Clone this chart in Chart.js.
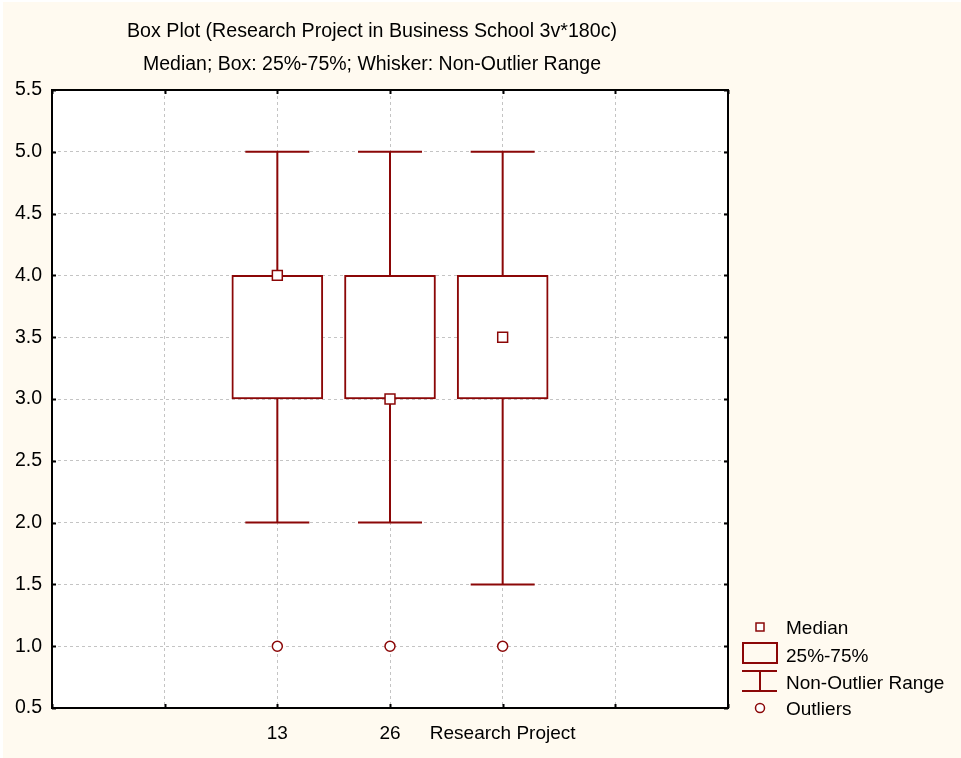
<!DOCTYPE html>
<html>
<head>
<meta charset="utf-8">
<title>Box Plot (Research Project in Business School 3v*180c)</title>
<script src="https://cdn.jsdelivr.net/npm/chart.js@4.4.1/dist/chart.umd.min.js"></script>
<style>
  html, body { margin: 0; padding: 0; background: #ffffff; }
  #wrap { width: 961px; height: 758px; }
  canvas { display: block; }
</style>
</head>
<body>
<div id="wrap"><canvas id="chart" width="961" height="758"></canvas></div>
<script>
// ---- data ----
const categories   = ['13', '26', 'Research Project'];
const medians      = [4.0, 3.0, 3.5];
const quartile25   = [3.0, 3.0, 3.0];
const quartile75   = [4.0, 4.0, 4.0];
const whiskerLow   = [2.0, 2.0, 1.5];
const whiskerHigh  = [5.0, 5.0, 5.0];
const outliers     = [1.0, 1.0, 1.0];
const yTickValues  = [0.5, 1.0, 1.5, 2.0, 2.5, 3.0, 3.5, 4.0, 4.5, 5.0, 5.5];

const titleLines = [
  'Box Plot (Research Project in Business School 3v*180c)',
  'Median; Box: 25%-75%; Whisker: Non-Outlier Range'
];
const legendItems = ['Median', '25%-75%', 'Non-Outlier Range', 'Outliers'];

// ---- styling ----
const RED = '#8b0707';
const CREAM = '#fffaf0';
const FONT = '"Liberation Sans", Arial, sans-serif';
const X_MIN = 0, X_MAX = 6, FIRST_SLOT = 2;   // categories sit on slots 2,3,4 of a 0..6 axis
const CAP_HALF = 0.284;                        // whisker cap half-width, in axis units

const xOf = i => i + FIRST_SLOT;

// whiskers and caps as one broken polyline
const whiskerPts = [];
categories.forEach((c, i) => {
  const x = xOf(i);
  whiskerPts.push({ x, y: quartile75[i] }, { x, y: whiskerHigh[i] }, { x, y: null });
  whiskerPts.push({ x, y: quartile25[i] }, { x, y: whiskerLow[i] }, { x, y: null });
  whiskerPts.push({ x: x - CAP_HALF, y: whiskerHigh[i] }, { x: x + CAP_HALF, y: whiskerHigh[i] }, { x, y: null });
  whiskerPts.push({ x: x - CAP_HALF, y: whiskerLow[i] }, { x: x + CAP_HALF, y: whiskerLow[i] }, { x, y: null });
});

// page background, white plot area
const backdrop = {
  id: 'backdrop',
  beforeDraw(chart) {
    const { ctx, width, height, chartArea: a } = chart;
    ctx.save();
    ctx.fillStyle = '#ffffff';
    ctx.fillRect(0, 0, width, height);
    ctx.fillStyle = CREAM;
    ctx.fillRect(3, 2, width - 3, height - 2);
    ctx.fillStyle = '#ffffff';
    ctx.fillRect(a.left, a.top, a.right - a.left, a.bottom - a.top);
    ctx.restore();
  }
};

// two-line heading
const heading = {
  id: 'heading',
  afterDraw(chart) {
    const { ctx } = chart;
    const cx = 372;
    const widths = [490, 458];
    const ys = [32, 65];
    ctx.save();
    ctx.fillStyle = '#000';
    ctx.font = '19.5px ' + FONT;
    ctx.textAlign = 'center';
    ctx.textBaseline = 'middle';
    titleLines.forEach((t, k) => {
      const w = ctx.measureText(t).width;
      ctx.save();
      ctx.translate(cx, ys[k]);
      ctx.scale(widths[k] / w, 1);
      ctx.fillText(t, 0, 0);
      ctx.restore();
    });
    ctx.restore();
  }
};

// black frame with inward tick marks on all four sides
const frame = {
  id: 'frame',
  afterDatasetsDraw(chart) {
    const { ctx, chartArea: a, scales } = chart;
    const L = 4;
    ctx.save();
    ctx.strokeStyle = '#000';
    ctx.lineWidth = 2;
    ctx.strokeRect(a.left, a.top, a.right - a.left, a.bottom - a.top);
    ctx.beginPath();
    scales.y.ticks.forEach(t => {
      const y = Math.round(scales.y.getPixelForValue(t.value)) + 0.5;
      ctx.moveTo(a.left, y); ctx.lineTo(a.left + L, y);
      ctx.moveTo(a.right, y); ctx.lineTo(a.right - L, y);
    });
    scales.x.ticks.forEach(t => {
      const x = Math.round(scales.x.getPixelForValue(t.value)) + 0.5;
      ctx.moveTo(x, a.bottom); ctx.lineTo(x, a.bottom - L);
      ctx.moveTo(x, a.top); ctx.lineTo(x, a.top + L);
    });
    ctx.stroke();
    ctx.restore();
  }
};

// key at the lower right
const keyBox = {
  id: 'keyBox',
  afterDraw(chart) {
    const { ctx } = chart;
    const ix = 760, tx = 786;
    const rows = [627, 655, 682, 708];
    ctx.save();
    ctx.strokeStyle = RED;
    ctx.fillStyle = '#fff';
    // median marker
    ctx.lineWidth = 1.5;
    ctx.fillRect(ix - 4, rows[0] - 4, 8, 8);
    ctx.strokeRect(ix - 4, rows[0] - 4, 8, 8);
    // box
    ctx.lineWidth = 2;
    ctx.strokeRect(743, 643, 34, 20);
    // whisker
    ctx.beginPath();
    ctx.moveTo(742, 671); ctx.lineTo(777, 671);
    ctx.moveTo(ix, 671); ctx.lineTo(ix, 691);
    ctx.moveTo(742, 691); ctx.lineTo(777, 691);
    ctx.stroke();
    // outlier marker
    ctx.lineWidth = 1.5;
    ctx.beginPath();
    ctx.arc(ix, rows[3], 4.5, 0, Math.PI * 2);
    ctx.fill();
    ctx.stroke();
    // labels
    ctx.fillStyle = '#000';
    ctx.font = '19px ' + FONT;
    ctx.textAlign = 'left';
    ctx.textBaseline = 'middle';
    legendItems.forEach((t, k) => ctx.fillText(t, tx, rows[k] + 1.5));
    ctx.restore();
  }
};

new Chart(document.getElementById('chart'), {
  data: {
    datasets: [
      {
        type: 'bar',
        label: '25%-75%',
        data: categories.map((c, i) => ({ x: xOf(i), y: [quartile25[i], quartile75[i]] })),
        backgroundColor: '#ffffff',
        borderColor: RED,
        borderWidth: 2,
        borderSkipped: false,
        barThickness: 91,
        order: 3
      },
      {
        type: 'line',
        label: 'Non-Outlier Range',
        data: whiskerPts,
        borderColor: RED,
        borderWidth: 2,
        pointRadius: 0,
        spanGaps: false,
        fill: false,
        order: 2
      },
      {
        type: 'scatter',
        label: 'Median',
        data: categories.map((c, i) => ({ x: xOf(i), y: medians[i] })),
        pointStyle: 'rect',
        pointRadius: 7,
        pointBorderWidth: 1.5,
        pointBackgroundColor: '#ffffff',
        pointBorderColor: RED,
        order: 0
      },
      {
        type: 'scatter',
        label: 'Outliers',
        data: categories.map((c, i) => ({ x: xOf(i), y: outliers[i] })),
        pointStyle: 'circle',
        pointRadius: 5,
        pointBorderWidth: 1.5,
        pointBackgroundColor: '#ffffff',
        pointBorderColor: RED,
        order: 1
      }
    ]
  },
  options: {
    responsive: false,
    animation: false,
    events: [],
    layout: { padding: { top: 90, right: 233, bottom: 0, left: 0 } },
    plugins: { legend: { display: false }, tooltip: { enabled: false }, title: { display: false } },
    scales: {
      x: {
        type: 'linear',
        min: X_MIN,
        max: X_MAX,
        offset: false,
        afterFit: s => { s.height = 50; },
        afterBuildTicks: s => {
          const t = [];
          for (let v = X_MIN; v <= X_MAX; v++) t.push({ value: v });
          s.ticks = t;
        },
        ticks: {
          autoSkip: false,
          maxRotation: 0,
          padding: 14,
          color: '#000',
          font: { family: FONT, size: 19 },
          callback: v => {
            const i = v - FIRST_SLOT;
            return (i >= 0 && i < categories.length) ? categories[i] : '';
          }
        },
        grid: { color: '#c4c4c4', lineWidth: 1, drawTicks: false, offset: false },
        border: { display: false, dash: [3, 3] }
      },
      y: {
        type: 'linear',
        min: yTickValues[0],
        max: yTickValues[yTickValues.length - 1],
        afterFit: s => { s.width = 52; },
        afterBuildTicks: s => { s.ticks = yTickValues.map(v => ({ value: v })); },
        ticks: {
          padding: 10,
          color: '#000',
          font: { family: FONT, size: 19.5 },
          callback: v => Number(v).toFixed(1)
        },
        grid: { color: '#c4c4c4', lineWidth: 1, drawTicks: false },
        border: { display: false, dash: [3, 3] }
      }
    }
  },
  plugins: [backdrop, heading, frame, keyBox]
});
</script>
</body>
</html>
